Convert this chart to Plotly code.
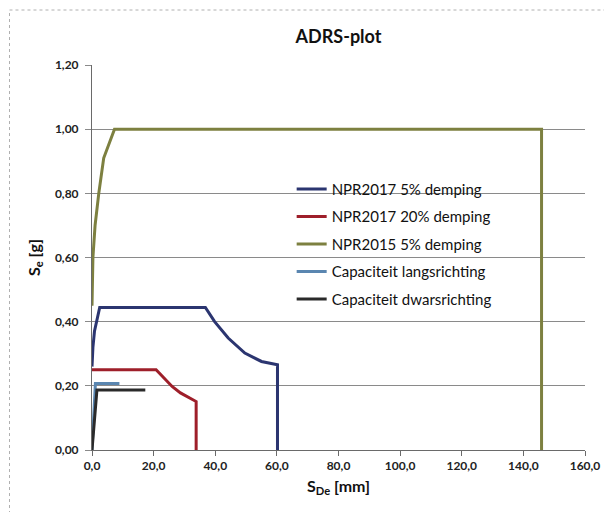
import plotly.graph_objects as go

# Data
npr2017_5_x = [0.0, 0.3, 0.8, 1.4, 2.5, 36.8, 39.8, 44.2, 49.6, 55.0, 60.2, 60.2]
npr2017_5_y = [0.26, 0.32, 0.37, 0.40, 0.444, 0.444, 0.40, 0.349, 0.302, 0.276, 0.266, 0.0]

npr2017_20_x = [0.0, 20.8, 26.0, 28.7, 33.8, 33.8]
npr2017_20_y = [0.25, 0.25, 0.198, 0.178, 0.151, 0.0]

npr2015_5_x = [0.0, 0.3, 1.0, 2.2, 3.8, 7.3, 145.9, 145.9]
npr2015_5_y = [0.45, 0.60, 0.70, 0.80, 0.91, 1.0, 1.0, 0.0]

cap_lang_x = [0.0, 1.1, 8.9]
cap_lang_y = [0.0, 0.207, 0.207]

cap_dwars_x = [0.0, 1.6, 17.3]
cap_dwars_y = [0.0, 0.187, 0.187]

series = [
    ("NPR2017 5% demping", npr2017_5_x, npr2017_5_y, "#2b3570"),
    ("NPR2017 20% demping", npr2017_20_x, npr2017_20_y, "#9e1f2a"),
    ("NPR2015 5% demping", npr2015_5_x, npr2015_5_y, "#7d8040"),
    ("Capaciteit langsrichting", cap_lang_x, cap_lang_y, "#5a86b0"),
    ("Capaciteit dwarsrichting", cap_dwars_x, cap_dwars_y, "#2a2a2a"),
]

x_ticks = [0, 20, 40, 60, 80, 100, 120, 140, 160]
y_ticks = [0.0, 0.2, 0.4, 0.6, 0.8, 1.0, 1.2]

FONT = "Lato"

fig = go.Figure()
for i, (name, xs, ys, col) in enumerate(series):
    fig.add_trace(go.Scatter(
        x=xs, y=ys, mode="lines", name=name,
        line=dict(color=col, width=3),
        legendgroup=f"g{i}",
    ))

# page has an 8px body margin; figure is sized/offset to compensate
fig.update_layout(
    width=604, height=504,
    margin=dict(l=84, r=24, t=57, b=62),
    paper_bgcolor="white", plot_bgcolor="white",
    separators=",.",
    font=dict(family=FONT, color="#222"),
    title=dict(text="<b>ADRS-plot</b>", x=0.5, xref="paper", xanchor="center",
               y=0.944, yref="container", yanchor="middle",
               font=dict(family=FONT, size=18, color="#111")),
    showlegend=True,
    legend=dict(x=0.405, y=0.72, xanchor="left", yanchor="top",
                bgcolor="rgba(0,0,0,0)", font=dict(family=FONT, size=15, color="#111"),
                itemwidth=30, traceorder="grouped", tracegroupgap=5),
    xaxis=dict(range=[0, 160], tickvals=x_ticks, tickformat=".1f",
               showgrid=False, zeroline=False,
               showline=True, linecolor="#6a6a6a", linewidth=1,
               ticks="outside", ticklen=5, tickcolor="#6a6a6a",
               tickfont=dict(family=FONT, size=12, color="#222", weight="bold"),
               title=dict(text="<b>S<sub>De</sub> [mm]</b>", standoff=8,
                          font=dict(family=FONT, size=16, color="#111")),
               layer="below traces"),
    yaxis=dict(range=[0, 1.2], tickvals=y_ticks, tickformat=".2f",
               showgrid=True, gridcolor="#8a8a8a", gridwidth=1,
               zeroline=False,
               showline=True, linecolor="#6a6a6a", linewidth=1,
               ticks="outside", ticklen=6, tickcolor="#8a8a8a",
               ticklabelstandoff=4,
               tickfont=dict(family=FONT, size=12, color="#222", weight="bold"),
               title=dict(text="<b>S<sub>e</sub> [g]</b>", standoff=10,
                          font=dict(family=FONT, size=16, color="#111")),
               layer="below traces"),
)

# outer chart border (dotted, like the scanned chart frame)
fig.add_shape(type="rect", xref="paper", yref="paper",
              x0=(9 - 92) / 496, x1=(610 - 92) / 496,
              y0=-0.25, y1=(450 - 10) / 385,
              line=dict(color="#b0b0b0", width=1, dash="dot"), layer="below")

fig.write_html("out.html")
